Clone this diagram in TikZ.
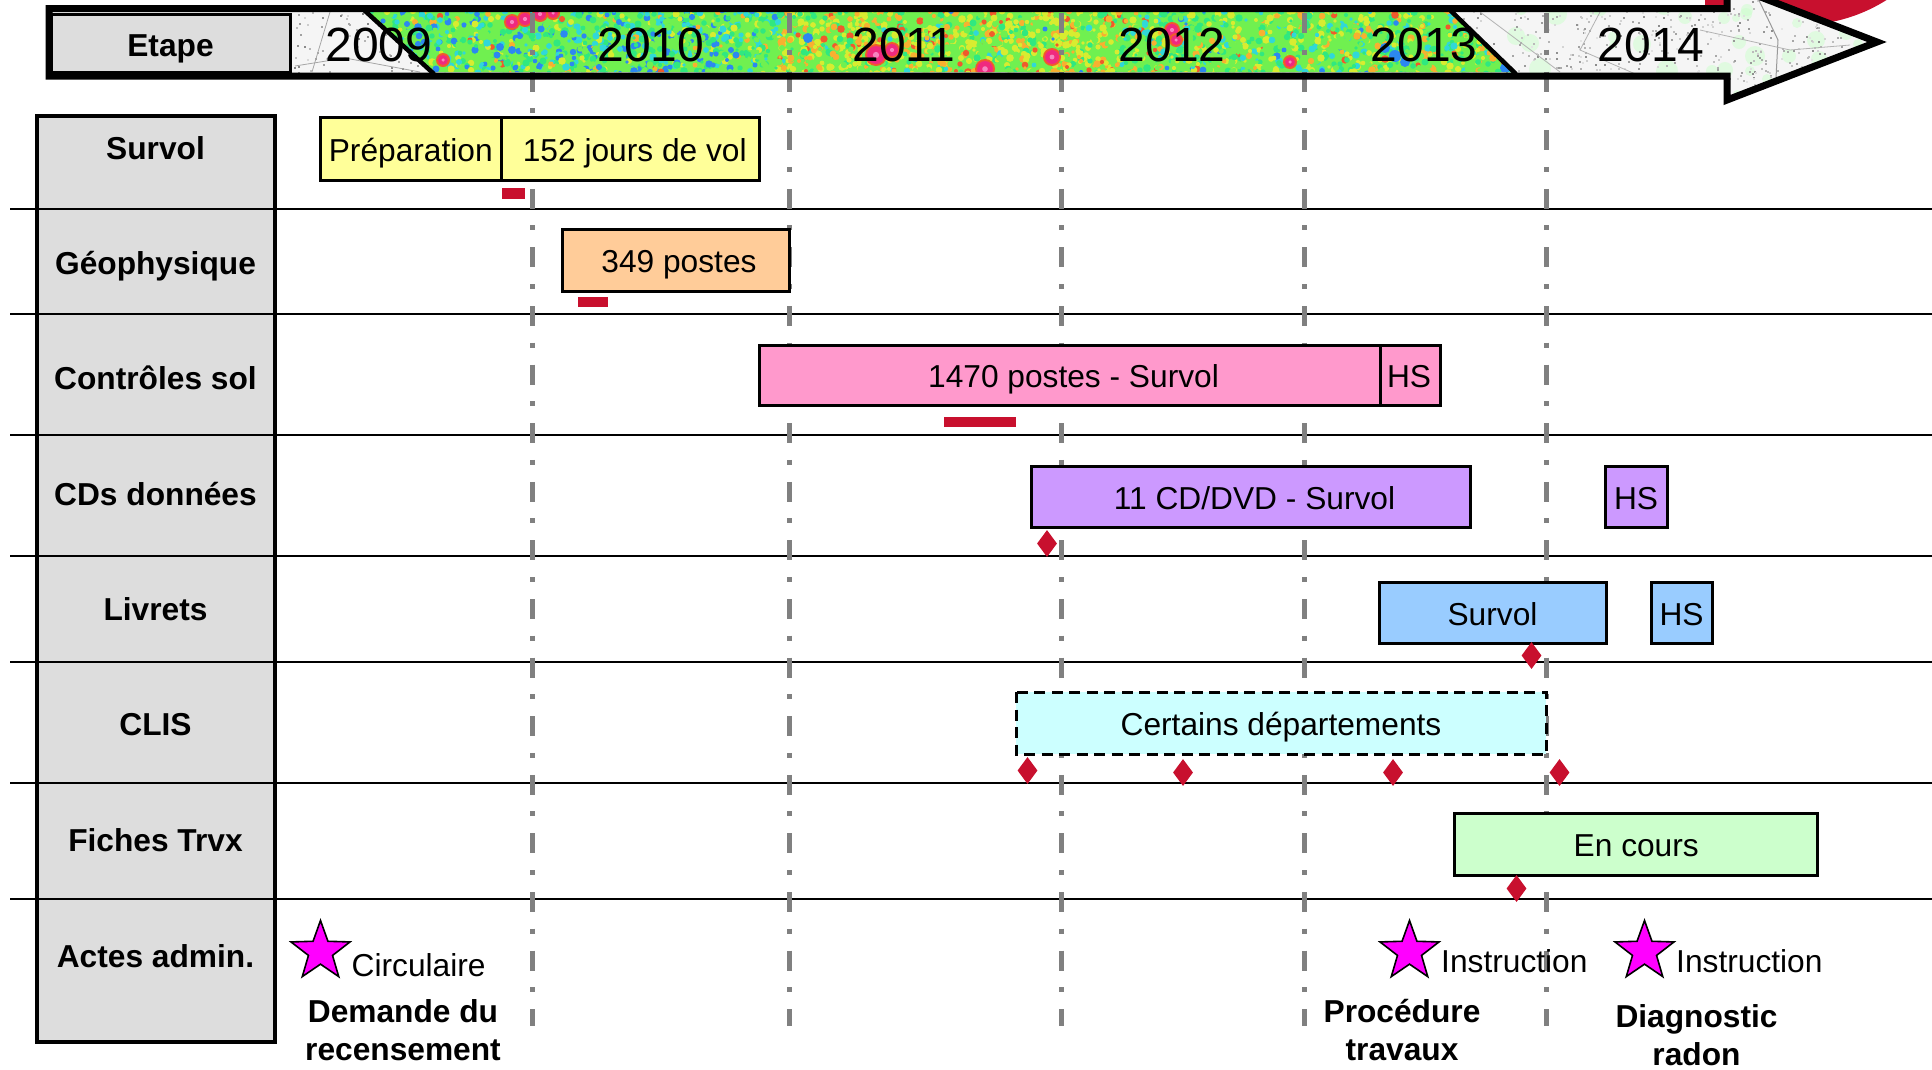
\documentclass[tikz,border=0pt]{standalone}
\usepackage{fontspec}
\setmainfont{Liberation Sans}
\usetikzlibrary{shapes.geometric}
\definecolor{crim}{HTML}{C8102E}
\definecolor{rowgray}{HTML}{DDDDDD}
\definecolor{dashgray}{HTML}{808080}
\definecolor{cLime}{HTML}{70F050}
\definecolor{cGreen}{HTML}{30E880}
\definecolor{cCyan}{HTML}{30D8D8}
\definecolor{cBlue}{HTML}{2C88F0}
\definecolor{cYellow}{HTML}{D8EC30}
\definecolor{cOrange}{HTML}{F8B030}
\definecolor{cRed}{HTML}{F05A2C}
\definecolor{cPink}{HTML}{F0208C}
\definecolor{magenta}{HTML}{FF00FF}
\newcommand{\txtnormal}{\fontsize{31.7}{36}\selectfont}
\newcommand{\txtyear}{\fontsize{48}{52}\selectfont}
\tikzset{
  rowlabel/.style={font=\txtnormal\bfseries,text height=23pt,text depth=0pt,inner sep=0pt,align=center},
  plainlabel/.style={font=\txtnormal,text height=23pt,text depth=0pt,inner sep=0pt,yshift=-1.3pt},
  yearlabel/.style={font=\txtyear,text height=34.5pt,text depth=0pt,inner sep=0pt},
  barbox/.style={draw=black,line width=3pt},
  vline/.style={draw=dashgray,line width=5pt,dash pattern=on 20pt off 16.6pt on 5pt off 17pt},
  hline/.style={draw=black,line width=2.2pt},
  redmark/.style={fill=crim},
  rhomb/.style={shape=diamond,fill=crim,inner sep=0pt,minimum width=20pt,minimum height=27pt,aspect=0.74},
  starmark/.style={shape=star,star points=5,star point ratio=2.45,minimum size=62pt,inner sep=0pt,draw=black,line width=1.6pt,fill=magenta},
  arrowline/.style={draw=black,line width=7pt,miter limit=10}
}
\newcommand{\arrowpath}{(49,8.5) -- (1727,8.5) -- (1727,-16) -- (1877,42) -- (1727,100) -- (1727,76) -- (49,76) -- cycle}
\begin{document}
\begin{tikzpicture}[x=1pt,y=-1pt]
\useasboundingbox (0,0) rectangle (1932,1069);
\fill[white] (0,0) rectangle (1932,1069);
% red disc behind the arrow
\fill[crim] (1705,-2) rectangle (1735,13);
\fill[crim] (1800,-137) circle[radius=162];
% textured arrow
\begin{scope}
  \clip \arrowpath;
  \fill[white!96!black] (40,-20) rectangle (1890,110);
  \pgfmathsetseed{7}
  \foreach \i in {1,...,40}{
    \pgfmathrandominteger\rx{1500}{1860}
    \pgfmathrandominteger\ry{-10}{100}
    \pgfmathrandominteger\rs{4}{11}
    \fill[green!20!white,opacity=.5] (\rx,\ry) circle[radius=\rs];
  }
  \foreach \i in {1,...,650}{
    \pgfmathrandominteger\rx{1450}{1870}
    \pgfmathrandominteger\ry{-10}{100}
    \pgfmathrandominteger\rg{10}{45}
    \fill[black!\rg!white] (\rx,\ry) rectangle ++(2,2);
  }
  \foreach \i in {1,...,70}{
    \pgfmathrandominteger\rx{292}{430}
    \pgfmathrandominteger\ry{12}{72}
    \pgfmathrandominteger\rg{15}{50}
    \fill[black!\rg!white] (\rx,\ry) rectangle ++(2,2);
  }
  \draw[black!35!white,line width=.8pt] (330,12) -- (312,72);
  \draw[black!35!white,line width=.8pt] (295,66) -- (345,58) -- (420,72);
  \draw[black!30!white,line width=.8pt] (1480,12) -- (1560,72);
  \draw[black!30!white,line width=.8pt] (1600,12) -- (1580,50) -- (1640,76);
  \draw[black!40!white,line width=1pt] (1755,-8) -- (1778,40) -- (1775,96);
  \draw[black!30!white,line width=.8pt] (1700,30) -- (1790,50) -- (1850,45);
  % coloured band
  \begin{scope}
    \clip (364,12) -- (1450,12) -- (1514,72) -- (432,72) -- cycle;
    \fill[cLime] (360,10) rectangle (1520,76);
    \pgfmathsetseed{11}
    \foreach \i in {1,...,3400}{
      \pgfmathrandominteger\rx{360}{1520}
      \pgfmathrandominteger\ry{10}{74}
      \pgfmathrandominteger\rc{0}{99}
      \pgfmathrandominteger\rs{18}{38}
      \ifnum\rx<780
        \def\ta{30}\def\tb{56}\def\tc{72}\def\td{85}\def\te{95}\def\tf{99}
      \else\ifnum\rx<1120
        \def\ta{30}\def\tb{42}\def\tc{45}\def\td{46}\def\te{76}\def\tf{94}
      \else
        \def\ta{40}\def\tb{60}\def\tc{70}\def\td{73}\def\te{90}\def\tf{98}
      \fi\fi
      \ifnum\rc<\ta \def\cc{cLime}\else
      \ifnum\rc<\tb \def\cc{cGreen}\else
      \ifnum\rc<\tc \def\cc{cCyan}\else
      \ifnum\rc<\td \def\cc{cBlue}\else
      \ifnum\rc<\te \def\cc{cYellow}\else
      \ifnum\rc<\tf \def\cc{cOrange}\else
      \def\cc{cRed}\fi\fi\fi\fi\fi\fi
      \fill[\cc] (\rx,\ry) circle[radius=\rs/10];
    }
    % bright spots
    \foreach \px/\py/\pr in {512/22/6,525/19/6,540/14/6,553/13/5,443/60/5,876/55/9,892/50/6,985/69/8,1052/57/7,1172/30/6,1176/40/5,1290/62/5}{
      \fill[cRed] (\px,\py) circle[radius=\pr+2];
      \fill[cPink!85!cRed] (\px,\py) circle[radius=\pr];
      \fill[cPink!55!white] (\px,\py) circle[radius=\pr*.35];
    }
    \foreach \px/\py/\pr in {1385/48/5,1395/56/6,1405/62/5,1505/68/5,808/38/5,500/47/4,512/50/4}{
      \fill[cBlue] (\px,\py) circle[radius=\pr];
    }
  \end{scope}
  \draw[black,line width=4.5pt] (364,10) -- (434,74);
  \draw[black,line width=4.5pt] (1450,10) -- (1516,74);
\end{scope}
% horizontal separators
\draw[hline] (10,209) -- (1932,209);
\draw[hline] (10,314) -- (1932,314);
\draw[hline] (10,435) -- (1932,435);
\draw[hline] (10,556) -- (1932,556);
\draw[hline] (10,662) -- (1932,662);
\draw[hline] (10,783) -- (1932,783);
\draw[hline] (10,899) -- (1932,899);
% dash-dot year lines
\foreach \vx in {532,789.5,1061,1304,1546}{
  \draw[vline] (\vx,13) -- (\vx,1026);
}
% arrow outline and step box
\draw[arrowline] \arrowpath;
\draw[draw=black,line width=3pt,fill=rowgray] (51,14) rectangle node[rowlabel,yshift=-1.5pt] (etape) {Etape} (290,72);
% year labels
\node[yearlabel] (y2009) at (379,44) {2009};
\node[yearlabel] (y2010) at (651,44) {2010};
\node[yearlabel] (y2011) at (904,44) {2011};
\node[yearlabel] (y2012) at (1172,44) {2012};
\node[yearlabel] (y2013) at (1424,44) {2013};
\node[yearlabel] (y2014) at (1651,44) {2014};
% left column
\draw[draw=black,line width=3.5pt,fill=rowgray] (37,116) rectangle (275,1042);
\draw[hline] (37,209) -- (275,209);
\draw[hline] (37,314) -- (275,314);
\draw[hline] (37,435) -- (275,435);
\draw[hline] (37,556) -- (275,556);
\draw[hline] (37,662) -- (275,662);
\draw[hline] (37,783) -- (275,783);
\draw[hline] (37,899) -- (275,899);
\node[rowlabel] (rSurvol) at (155.5,148) {Survol};
\node[rowlabel] (rGeo) at (155.5,262.5) {Géophysique};
\node[rowlabel] (rSol) at (155.5,378) {Contrôles sol};
\node[rowlabel] (rCD) at (155.5,494) {CDs données};
\node[rowlabel] (rLiv) at (155.5,609) {Livrets};
\node[rowlabel] (rClis) at (155.5,724) {CLIS};
\node[rowlabel] (rFiches) at (155.5,840) {Fiches Trvx};
\node[rowlabel] (rActes) at (155.5,956) {Actes admin.};
% bars
\draw[barbox,fill={rgb,255:red,255;green,255;blue,153}] (320,117) rectangle node[plainlabel] (bPrep) {Préparation} (501.5,180);
\draw[barbox,fill={rgb,255:red,255;green,255;blue,153}] (501.5,117) rectangle node[plainlabel,xshift=4.5pt] (bVol) {152 jours de vol} (759,180);
\fill[redmark] (502,188) rectangle (525,199);
\draw[barbox,fill={rgb,255:red,255;green,204;blue,153}] (562,229) rectangle node[plainlabel,xshift=3.5pt] (bGeo) {349 postes} (789,291);
\fill[redmark] (578,297) rectangle (608,307);
\draw[barbox,fill={rgb,255:red,255;green,153;blue,204}] (759,345) rectangle node[plainlabel,xshift=4pt] (bSol) {1470 postes - Survol} (1380,405);
\draw[barbox,fill={rgb,255:red,255;green,153;blue,204}] (1380,345) rectangle node[plainlabel,xshift=-1pt] (bSolHS) {HS} (1440,405);
\fill[redmark] (944,417) rectangle (1016,427);
\draw[barbox,fill={rgb,255:red,204;green,153;blue,255}] (1031,466) rectangle node[plainlabel,xshift=4pt] (bCD) {11 CD/DVD - Survol} (1470,527);
\draw[barbox,fill={rgb,255:red,204;green,153;blue,255}] (1605,466) rectangle node[plainlabel] (bCDHS) {HS} (1667,527);
\draw[barbox,fill={rgb,255:red,153;green,204;blue,255}] (1379,582) rectangle node[plainlabel] (bLiv) {Survol} (1606,643);
\draw[barbox,fill={rgb,255:red,153;green,204;blue,255}] (1651,582) rectangle node[plainlabel] (bLivHS) {HS} (1712,643);
\draw[barbox,dash pattern=on 11pt off 6.5pt,fill={rgb,255:red,204;green,255;blue,255}] (1016,692) rectangle node[plainlabel] (bClis) {Certains départements} (1546,754);
\draw[barbox,fill={rgb,255:red,204;green,255;blue,204}] (1454,813) rectangle node[plainlabel,xshift=.5pt] (bFiches) {En cours} (1817.5,875);
% milestones
\node[rhomb] (d1) at (1047,543.5) {};
\node[rhomb] (d2) at (1531.5,655.5) {};
\node[rhomb] (d3) at (1027.5,770.5) {};
\node[rhomb] (d4) at (1183,772.5) {};
\node[rhomb] (d5) at (1393,772.5) {};
\node[rhomb] (d6) at (1559.5,772.5) {};
\node[rhomb] (d7) at (1516.5,888.5) {};
% stars and texts
\node[starmark] (s1) at (320.5,951.5) {};
\node[starmark] (s2) at (1409.5,951.5) {};
\node[starmark] (s3) at (1644.5,951.5) {};
\node[plainlabel,anchor=west] (tCirc) at (351.5,964) {Circulaire};
\node[plainlabel,anchor=west] (tInst1) at (1441,960) {Instruction};
\node[plainlabel,anchor=west] (tInst2) at (1676,960) {Instruction};
\node[rowlabel] (tDem) at (403,1011) {Demande du};
\node[rowlabel] (tRec) at (403,1049) {recensement};
\node[rowlabel] (tProc) at (1402,1011) {Procédure};
\node[rowlabel] (tTrav) at (1402,1049) {travaux};
\node[rowlabel] (tDiag) at (1696.5,1016) {Diagnostic};
\node[rowlabel] (tRad) at (1696.5,1054) {radon};
\end{tikzpicture}
\end{document}
